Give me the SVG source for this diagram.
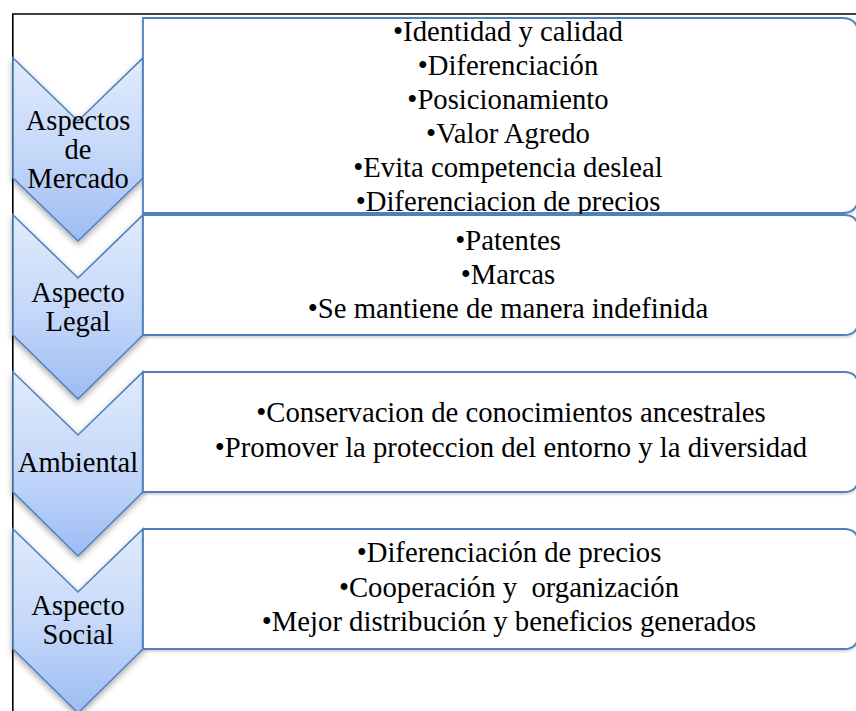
<svg xmlns="http://www.w3.org/2000/svg" width="856" height="711" viewBox="0 0 856 711">
  <style>
    .chev { fill: url(#chevGrad); stroke: #4f81bd; stroke-width: 1.6; filter: url(#chevShadow); }
    .box { fill: #ffffff; stroke: #4f81bd; stroke-width: 1.8; filter: url(#boxShadow); }
    text { font-family: 'Liberation Serif', 'DejaVu Serif', serif; fill: #000; text-anchor: middle; }
    .lbl { font-size: 28.5px; }
    .itm { font-size: 28.7px; white-space: pre; }
    .frame { fill: none; stroke: #000; stroke-width: 1.6; }
  </style>
  <defs>
    <linearGradient id="chevGrad" x1="0" y1="0" x2="0" y2="1">
      <stop offset="0" stop-color="#e0ebfc"/>
      <stop offset="0.5" stop-color="#c6d9f9"/>
      <stop offset="1" stop-color="#9dbcf4"/>
    </linearGradient>
    <filter id="chevShadow" x="-20%" y="-20%" width="140%" height="140%">
      <feDropShadow dx="0" dy="3" stdDeviation="3" flood-color="#000" flood-opacity="0.35"/>
    </filter>
    <filter id="boxShadow" x="-5%" y="-10%" width="110%" height="120%">
      <feDropShadow dx="0" dy="1.5" stdDeviation="1.2" flood-color="#000" flood-opacity="0.2"/>
    </filter>
  </defs>

  <rect width="856" height="711" fill="#ffffff"/>

  <g id="frame">
    <path class="frame" d="M12.8,711 L12.8,14 L856,14"/>
  </g>

  <g id="node-mercado">
    <path class="chev" d="M13,58 L78,121 L143,58 L143,178 L78,241 L13,178 Z"/>
    <text class="lbl" x="78" y="130" font-family="Liberation Serif, serif">Aspectos</text>
    <text class="lbl" x="78" y="159" font-family="Liberation Serif, serif">de</text>
    <text class="lbl" x="78" y="188" font-family="Liberation Serif, serif">Mercado</text>
  </g>
  <g id="node-legal">
    <path class="chev" d="M13,215 L78,278 L143,215 L143,335 L78,399 L13,335 Z"/>
    <text class="lbl" x="78" y="302">Aspecto</text>
    <text class="lbl" x="78" y="331">Legal</text>
  </g>
  <g id="node-ambiental">
    <path class="chev" d="M13,372 L78,435 L143,372 L143,492 L78,556 L13,492 Z"/>
    <text class="lbl" x="78" y="472">Ambiental</text>
  </g>
  <g id="node-social">
    <path class="chev" d="M13,529 L78,592 L143,529 L143,649 L78,713 L13,649 Z"/>
    <text class="lbl" x="78" y="615">Aspecto</text>
    <text class="lbl" x="78" y="644">Social</text>
  </g>

  <g id="box-mercado">
    <path class="box" d="M143,18 L842,18 Q858,18 858,34 L858,197 Q858,213 842,213 L143,213 Z"/>
    <text class="itm" x="508" y="41">•Identidad y calidad</text>
    <text class="itm" x="508" y="75">•Diferenciación</text>
    <text class="itm" x="508" y="109">•Posicionamiento</text>
    <text class="itm" x="508" y="143">•Valor Agredo</text>
    <text class="itm" x="508" y="177">•Evita competencia desleal</text>
    <text class="itm" x="508" y="211">•Diferenciacion de precios</text>
  </g>
  <g id="box-legal">
    <path class="box" d="M143,215 L844,215 Q858,215 858,229 L858,321 Q858,335 844,335 L143,335 Z"/>
    <text class="itm" x="508" y="250">•Patentes</text>
    <text class="itm" x="508" y="284">•Marcas</text>
    <text class="itm" x="508" y="318">•Se mantiene de manera indefinida</text>
  </g>
  <g id="box-ambiental">
    <path class="box" d="M143,372 L844,372 Q858,372 858,386 L858,478 Q858,492 844,492 L143,492 Z"/>
    <text class="itm" x="511" y="422">•Conservacion de conocimientos ancestrales</text>
    <text class="itm" x="511" y="457">•Promover la proteccion del entorno y la diversidad</text>
  </g>
  <g id="box-social">
    <path class="box" d="M143,529 L844,529 Q858,529 858,543 L858,635 Q858,649 844,649 L143,649 Z"/>
    <text class="itm" x="509" y="562">•Diferenciación de precios</text>
    <text class="itm" x="509" y="597">•Cooperación y  organización</text>
    <text class="itm" x="509" y="631">•Mejor distribución y beneficios generados</text>
  </g>

  <g id="connectors"></g>
</svg>
